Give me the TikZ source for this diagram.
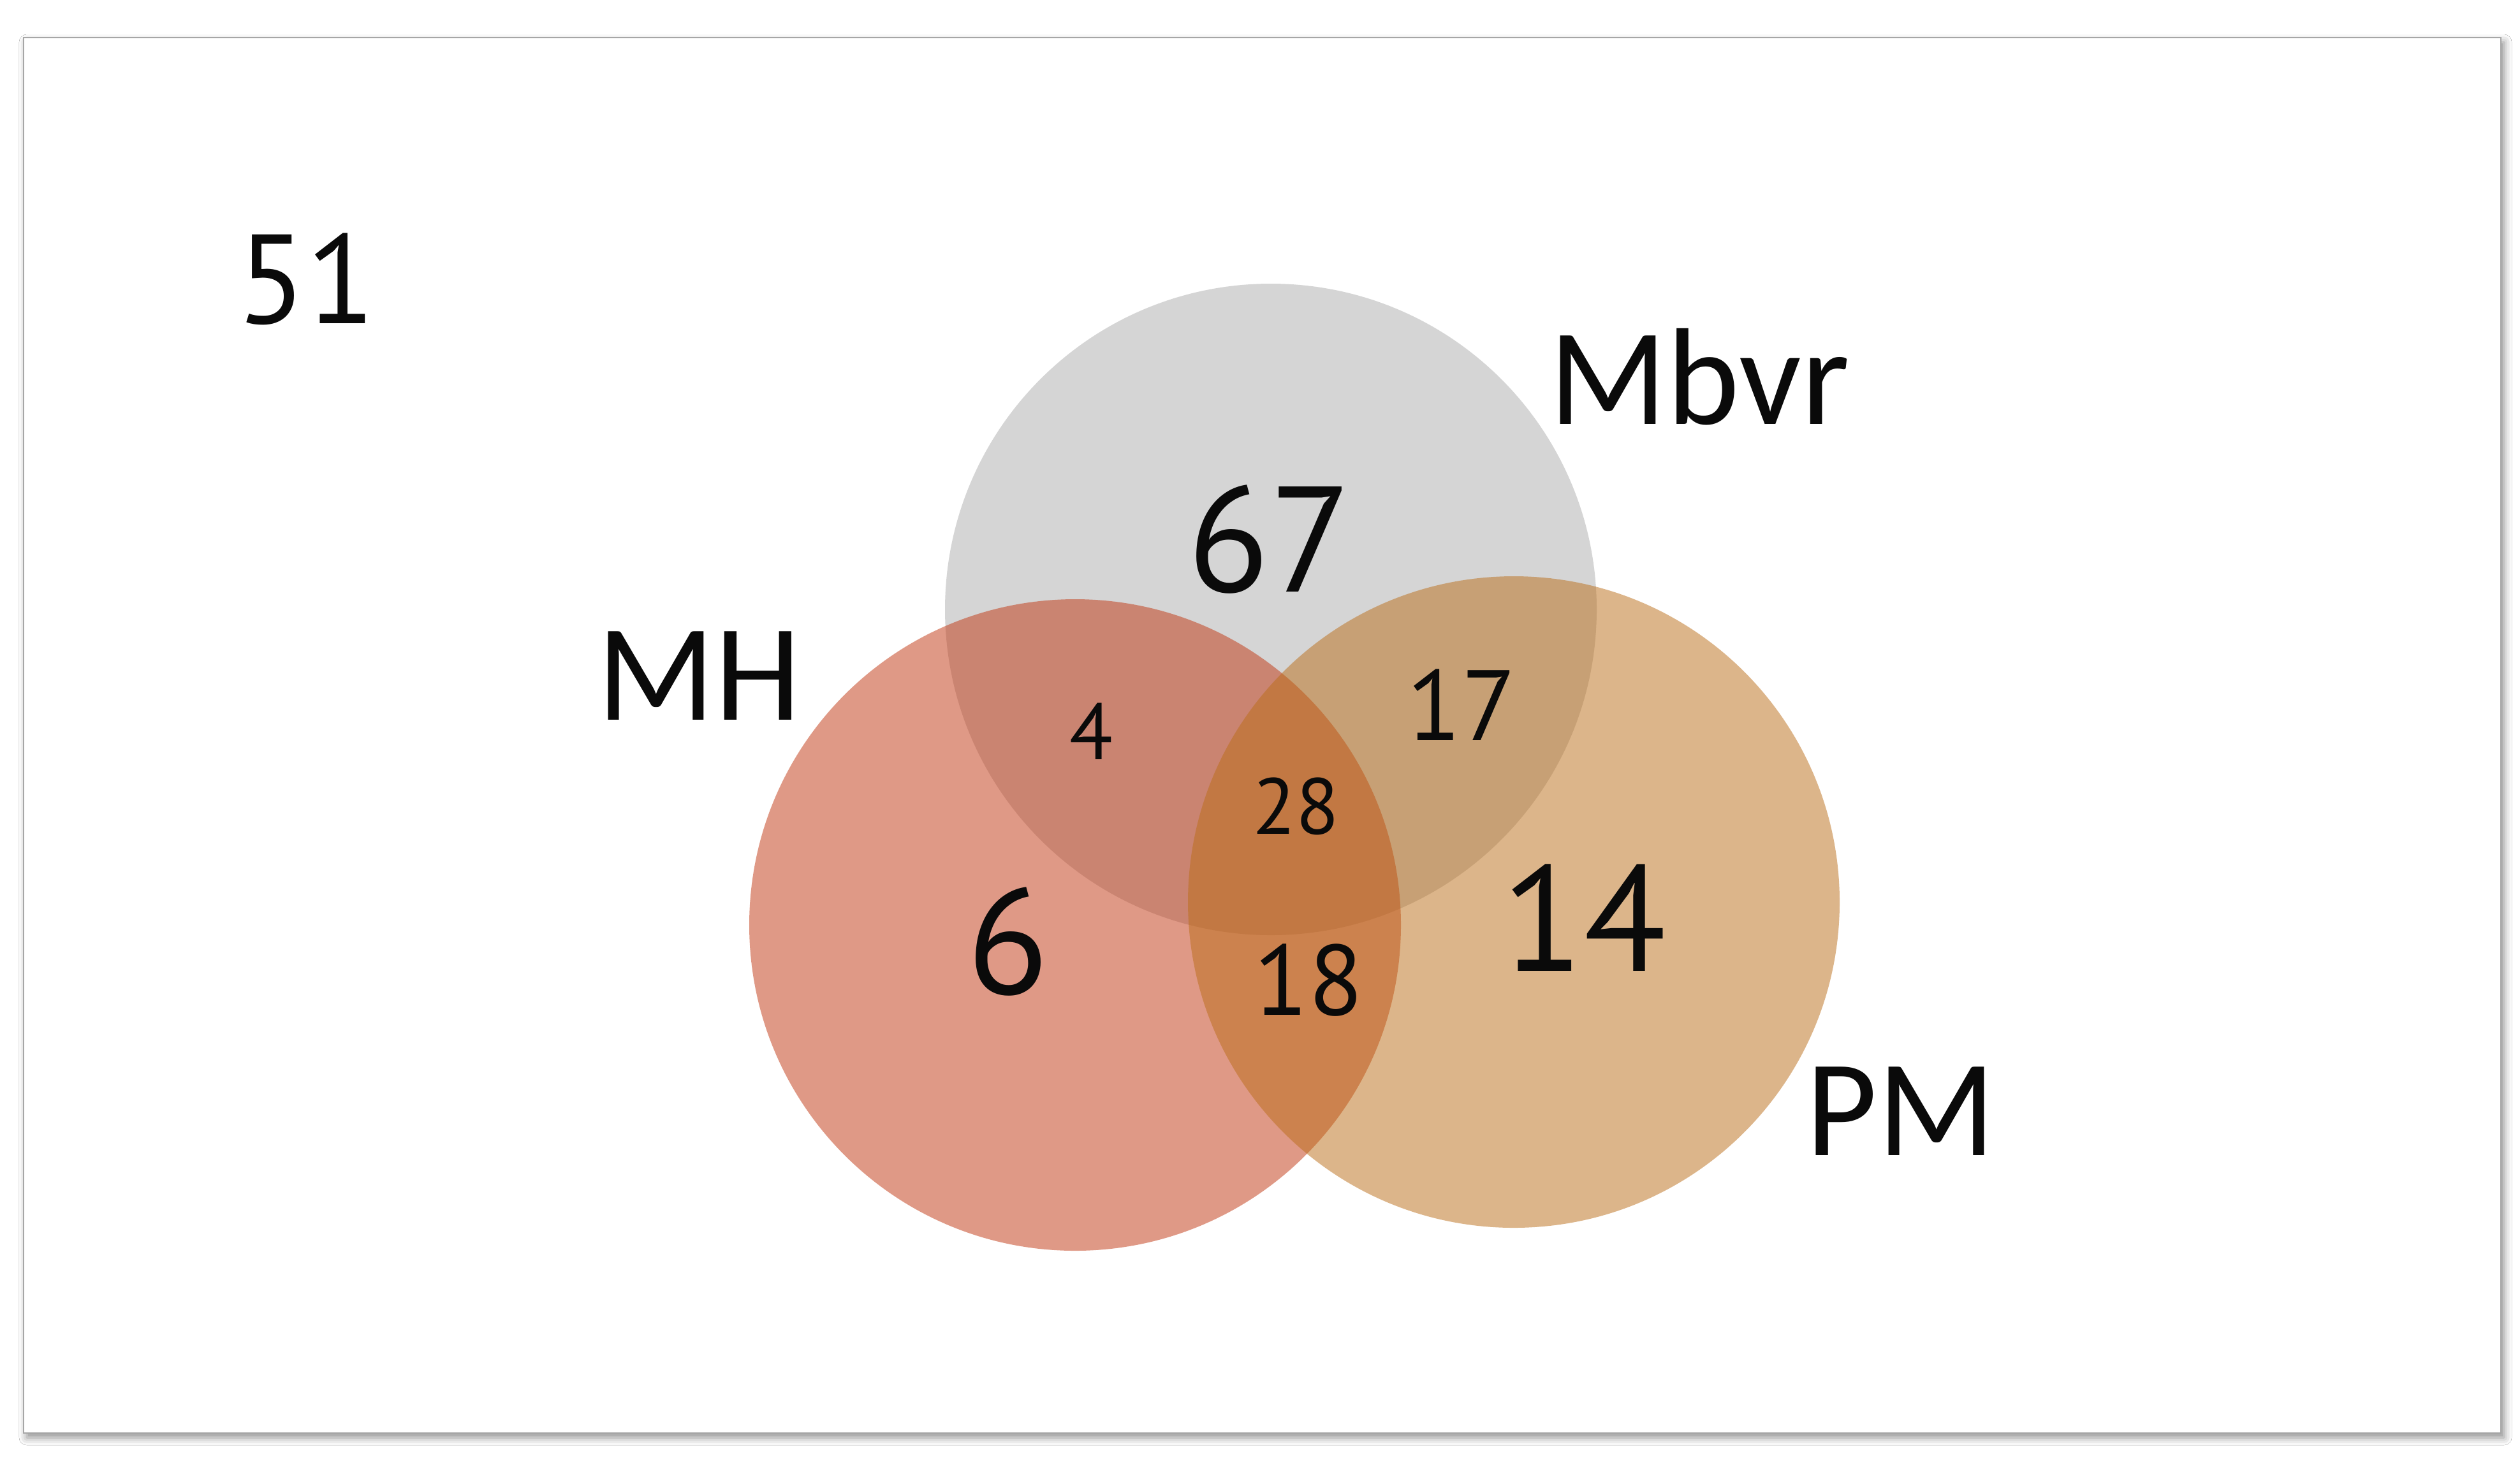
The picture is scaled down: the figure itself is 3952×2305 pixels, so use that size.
\documentclass[tikz,border=0pt]{standalone}
\usepackage{fontspec}
\setmainfont{Carlito}
\newfontfamily\digfont{PT Sans}
\usetikzlibrary{shadows.blur}
\definecolor{grayc}{HTML}{ACACAC}
\definecolor{mhc}{HTML}{C1350F}
\definecolor{pmc}{HTML}{BB6D17}
\definecolor{inkc}{HTML}{0A0A0A}
\begin{document}
\begin{tikzpicture}[x=0.01cm,y=-0.01cm,
  lbl/.style={inner sep=0pt, outer sep=0pt, text=inkc, anchor=center},
  big/.style={lbl, font=\fontsize{61.5}{70}\selectfont},
  bigd/.style={lbl, font=\digfont\fontsize{56.6}{66}\selectfont},
  huge/.style={lbl, font=\digfont\fontsize{67}{76}\selectfont},
  mid/.style={lbl, font=\digfont\fontsize{44.6}{52}\selectfont},
  small/.style={lbl, font=\digfont\fontsize{35.4}{42}\selectfont},
  venn/.style={fill opacity=0.5}]
\useasboundingbox (0,0) rectangle (3952,2305);
\fill[white] (0,0) rectangle (3952,2305);
% frame with shadow
\fill[white, blur shadow={shadow xshift=0.05cm, shadow yshift=-0.07cm, shadow blur radius=0.12cm, shadow opacity=45}]
  (37,59) rectangle (3922,2248);
\draw[line width=0.7pt, black!35] (37,59) rectangle (3922,2248);
% circles
\fill[venn, grayc] (1993,956) circle (511);
\fill[venn, mhc] (1686,1451) circle (511);
\fill[venn, pmc] (2374,1415) circle (511);
% labels
\node[bigd] (n51) at (480,438) {51};
\node[big] (mbvr) at (2665,591) {Mbvr};
\node[big] (mh) at (1096,1060) {MH};
\node[big] (pm) at (2981,1743) {PM};
\node[huge] (n67) at (1991,846) {67};
\node[huge] (n6) at (1581,1477) {6};
\node[huge] (n14) at (2484,1440) {14};
\node[mid] (n17) at (2292,1106) {17};
\node[mid] (n18) at (2052,1538) {18};
\node[small] (n4) at (1711,1147) {4};
\node[small] (n28) at (2032,1265) {28};
\end{tikzpicture}
\end{document}
